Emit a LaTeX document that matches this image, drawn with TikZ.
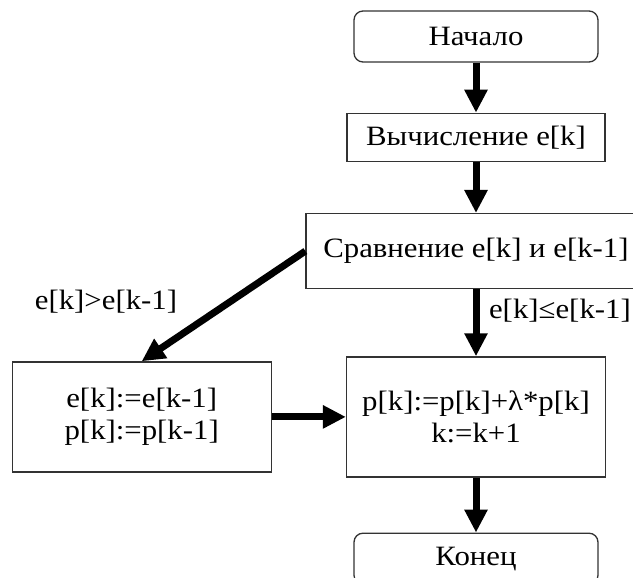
\documentclass[tikz,border=0pt]{standalone}
\usepackage{fontspec}
\setmainfont{Liberation Serif}[FakeStretch=1.1]
\usetikzlibrary{positioning,arrows.meta}

\begin{document}
\begin{tikzpicture}[x=1pt,y=-1pt,>={Triangle[length=23pt,width=22pt]},
  every node/.style={font=\fontsize{28}{32}\selectfont},
  term/.style={draw=black!80,line width=1.3pt,rounded corners=9pt,minimum width=244pt,minimum height=51pt,inner sep=0pt},
  proc/.style={draw=black!80,line width=1.3pt,minimum height=48pt,inner sep=0pt,align=center},
  flow/.style={->,line width=7pt}]
  \useasboundingbox (0,0) rectangle (633,578);
  \node[term] (start) at (476,36.5) {Начало};
  \node[proc,below=50pt of start,minimum width=258pt] (calc) {Вычисление e[k]};
  \node[proc,below=51pt of calc,minimum width=340pt,minimum height=75pt] (cmp) {Сравнение e[k] и e[k-1]};
  \node[proc,below=67pt of cmp,minimum width=259pt,minimum height=120pt] (upd) {p[k]:=p[k]+λ*p[k]\\k:=k+1};
  \node[proc,left=74pt of upd,minimum width=259pt,minimum height=110pt] (keep) {e[k]:=e[k-1]\\p[k]:=p[k-1]};
  \node[term,below=55pt of upd] (end) {Конец};
  % branch conditions
  \node (gt) at (106,302) {e[k]>e[k-1]};
  \node[anchor=east,inner sep=1pt] (le) at (632,311) {e[k]≤e[k-1]};
  \draw[flow] (start) -- (calc);
  \draw[flow] (calc) -- (cmp);
  \draw[flow] (cmp.west) -- (keep.north);
  \draw[flow] (cmp) -- (upd);
  \draw[flow] (keep) -- (upd);
  \draw[flow] (upd) -- (end);
\end{tikzpicture}
\end{document}
